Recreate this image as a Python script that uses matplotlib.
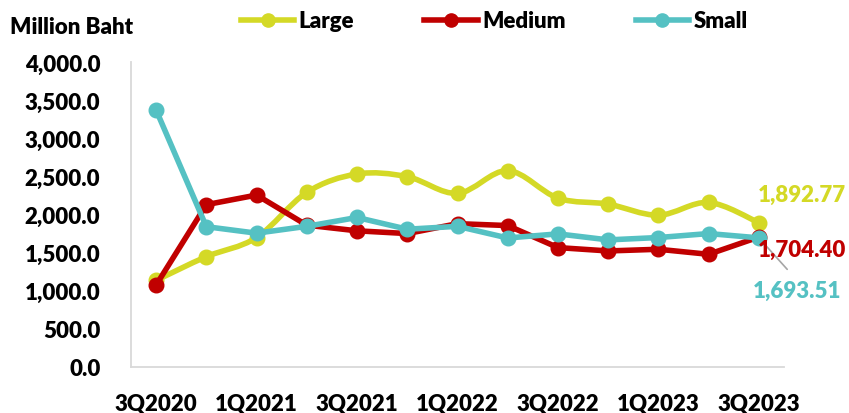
import matplotlib
matplotlib.use("Agg")
import matplotlib.pyplot as plt
from matplotlib.path import Path
from matplotlib.patches import PathPatch
from matplotlib.lines import Line2D
import numpy as np

quarters = ["3Q2020", "4Q2020", "1Q2021", "2Q2021", "3Q2021", "4Q2021", "1Q2022",
            "2Q2022", "3Q2022", "4Q2022", "1Q2023", "2Q2023", "3Q2023"]
large = [1136, 1447, 1698, 2290, 2531, 2496, 2277, 2575, 2215, 2136, 1991, 2158, 1892.77]
medium = [1075, 2129, 2255, 1860, 1786, 1750, 1880, 1855, 1566, 1522, 1544, 1478, 1704.40]
small = [3370, 1840, 1755, 1845, 1961, 1807, 1845, 1692, 1746, 1667, 1698, 1750, 1693.51]
yticks = [0, 500, 1000, 1500, 2000, 2500, 3000, 3500, 4000]

C_L = "#D4D926"
C_M = "#C00000"
C_S = "#55C1C3"

plt.rcParams['font.family'] = ['Lato', 'DejaVu Sans']
FW = 'heavy'
plt.rcParams['font.weight'] = FW
FS = 16

W, H = 849, 414
fig = plt.figure(figsize=(W / 100, H / 100), dpi=100)
ax = fig.add_axes([131 / W, (H - 368) / H, (784 - 131) / W, (368 - 63) / H])

x = np.arange(len(quarters))


def smooth_path(xs, ys):
    pts = np.column_stack([xs, ys]).astype(float)
    n = len(pts)
    verts = [pts[0]]
    codes = [Path.MOVETO]
    for i in range(n - 1):
        p0 = pts[i - 1] if i > 0 else pts[i]
        p1 = pts[i]
        p2 = pts[i + 1]
        p3 = pts[i + 2] if i + 2 < n else pts[i + 1]
        c1 = p1 + (p2 - p0) / 6.0
        c2 = p2 - (p3 - p1) / 6.0
        verts += [c1, c2, p2]
        codes += [Path.CURVE4] * 3
    return Path(verts, codes)


lw = 4.0
ms = 10.5
ax.add_patch(PathPatch(smooth_path(x, large), facecolor='none', edgecolor=C_L,
                       lw=lw, capstyle='round', joinstyle='round', zorder=2))
ax.plot(x, large, linestyle='none', marker='o', ms=ms, color=C_L, zorder=2)
ax.plot(x, medium, color=C_M, lw=lw, marker='o', ms=ms, zorder=3,
        solid_capstyle='round', solid_joinstyle='round')
ax.plot(x, small, color=C_S, lw=lw, marker='o', ms=ms, zorder=4,
        solid_capstyle='round', solid_joinstyle='round')

ax.set_xlim(-0.5, len(quarters) - 0.5)
ax.set_ylim(0, 4000)
ax.set_yticks(yticks)
ax.set_yticklabels([f"{v:,.1f}" for v in yticks], fontsize=FS, fontweight=FW)
ax.set_xticks(x[::2])
ax.set_xticklabels(quarters[::2], fontsize=FS, fontweight=FW)
ax.tick_params(axis='both', length=0)
ax.tick_params(axis='y', pad=22)
ax.tick_params(axis='x', pad=19)
for s in ['top', 'right']:
    ax.spines[s].set_visible(False)
for s in ['left', 'bottom']:
    ax.spines[s].set_color('#D9D9D9')
    ax.spines[s].set_linewidth(1.3)

fig.text(10 / W, 1 - 28 / H, "Million Baht", fontsize=FS, fontweight=FW,
         ha='left', va='center')

last = len(quarters) - 1
ax.annotate(f"{large[-1]:,.2f}", xy=(last, large[-1]), xytext=(-1 * 0.72, 28 * 0.72),
            textcoords='offset points', ha='left', va='center', color=C_L,
            fontsize=FS, fontweight=FW, annotation_clip=False)
ax.annotate(f"{medium[-1]:,.2f}", xy=(last, medium[-1]), xytext=(-1 * 0.72, -12.5 * 0.72),
            textcoords='offset points', ha='left', va='center', color=C_M,
            fontsize=FS, fontweight=FW, annotation_clip=False, zorder=5)
ax.annotate(f"{small[-1]:,.2f}", xy=(last, small[-1]), xytext=(-6 * 0.72, -53 * 0.72),
            textcoords='offset points', ha='left', va='center', color=C_S,
            fontsize=FS, fontweight=FW, annotation_clip=False,
            arrowprops=dict(arrowstyle='-', color='#A6A6A6', lw=1.2,
                            relpos=(0.5, 1.0), shrinkA=8, shrinkB=5))

h = [Line2D([], [], color=c, lw=lw, marker='o', ms=ms - 1) for c in (C_L, C_M, C_S)]
leg = fig.legend(h, ["Large", "Medium", "Small"], ncol=3, frameon=False,
                 loc='center left', bbox_to_anchor=(241 / W, 1 - 22 / H),
                 fontsize=FS, handlelength=2.4, handletextpad=0.2,
                 columnspacing=3.15, borderaxespad=0, borderpad=0)
for t in leg.get_texts():
    t.set_fontweight(FW)

fig.savefig("out.png", dpi=100)
